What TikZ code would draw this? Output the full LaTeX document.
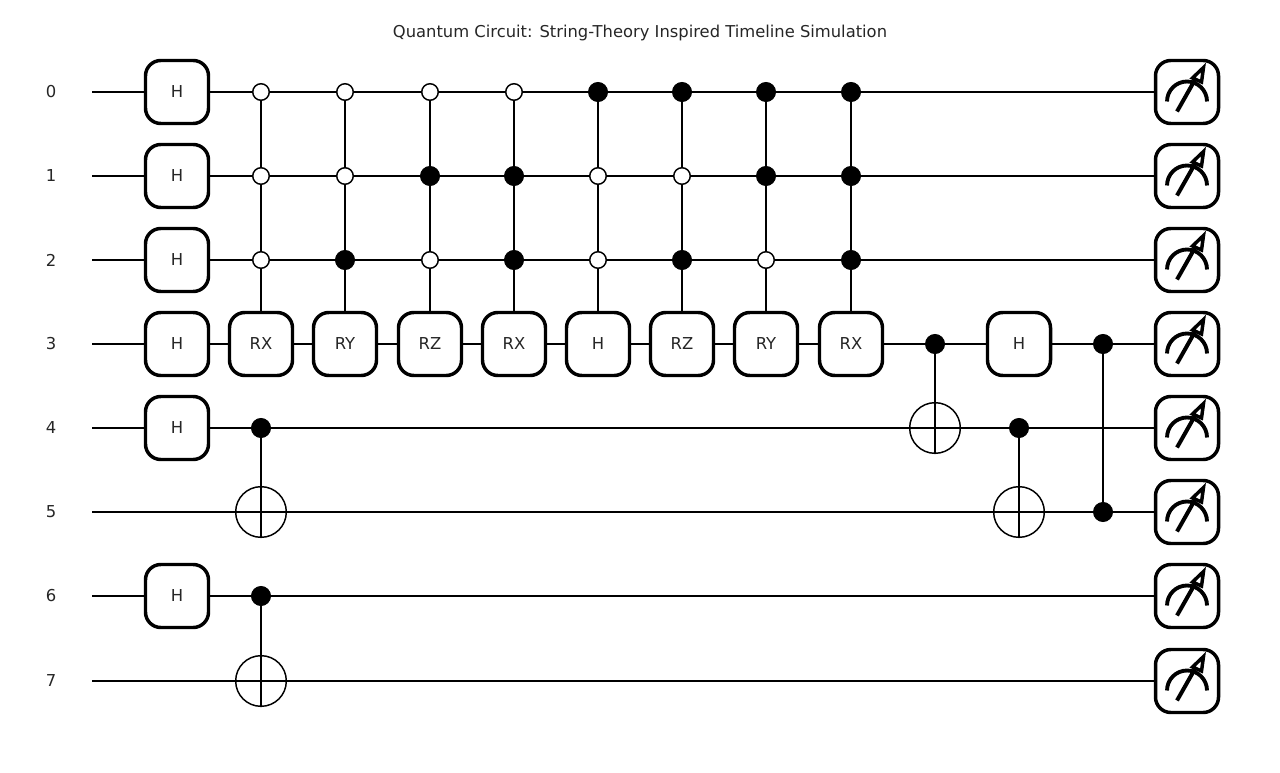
\documentclass[tikz,border=0pt]{standalone}
\usepackage{fontspec}
\setmainfont{DejaVu Sans}
\usetikzlibrary{calc}
\definecolor{ink}{HTML}{262626}
\tikzset{
  x=0.75pt,y=-0.75pt,
  wire/.style={line width=1.5pt,black},
  gatebox/.style={draw=black,fill=white,line width=2.6pt,rounded corners=11.5pt,minimum size=47.25pt,inner sep=0pt,text=ink,font=\fontsize{12.3}{14}\selectfont},
  ctrlon/.style={circle,draw=black,fill=black,line width=0.8pt,minimum size=14.2pt,inner sep=0pt},
  ctrloff/.style={circle,draw=black,fill=white,line width=1.1pt,minimum size=12.4pt,inner sep=0pt},
  target/.style={circle,draw=black,line width=1.1pt,minimum size=38pt,inner sep=0pt},
  qlabel/.style={text=ink,font=\fontsize{12.3}{14}\selectfont},
  titletext/.style={text=ink,font=\fontsize{12.26}{14}\selectfont},
}
\def\rowy#1{round(91.6+84.15*#1)}
\def\colx#1{round(177+84.2*#1)}
\begin{document}
\begin{tikzpicture}
\useasboundingbox (0,0) rectangle (1280,773);
\fill[white] (0,0) rectangle (1280,773);
\node[titletext] (title) at (640,32.5) {Quantum Circuit: String-Theory Inspired Timeline Simulation};
% labels and wires
\foreach \r in {0,...,7}{
  \node[qlabel] (q\r) at (51,{\rowy{\r}}) {\r};
  \coordinate (w\r) at (92,{\rowy{\r}});
  \coordinate (e\r) at ({\colx{12}},{\rowy{\r}});
  \draw[wire] (w\r) -- (e\r);
}
% H column
\foreach \r in {0,1,2,3,4,6}{
  \node[gatebox] (h\r) at ({\colx{0}},{\rowy{\r}}) {H};
}
% rotation gates with their control lines
\foreach \c/\t in {1/RX,2/RY,3/RZ,4/RX,5/H,6/RZ,7/RY,8/RX}{
  \node[gatebox] (g\c) at ({\colx{\c}},{\rowy{3}}) {\t};
  \foreach \r in {0,1,2}{ \coordinate (p\c-\r) at ({\colx{\c}},{\rowy{\r}}); }
  \draw[wire] (p\c-0) -- (g\c.north);
}
% controls
\foreach \c/\r/\s in {
 1/0/ctrloff,1/1/ctrloff,1/2/ctrloff,
 2/0/ctrloff,2/1/ctrloff,2/2/ctrlon,
 3/0/ctrloff,3/1/ctrlon,3/2/ctrloff,
 4/0/ctrloff,4/1/ctrlon,4/2/ctrlon,
 5/0/ctrlon,5/1/ctrloff,5/2/ctrloff,
 6/0/ctrlon,6/1/ctrloff,6/2/ctrlon,
 7/0/ctrlon,7/1/ctrlon,7/2/ctrloff,
 8/0/ctrlon,8/1/ctrlon,8/2/ctrlon}{
  \node[\s] (c\c-\r) at (p\c-\r) {};
}
% CNOTs
\foreach \n/\c/\a/\b in {a/1/4/5,b/1/6/7,c/9/3/4,d/10/4/5}{
  \node[target] (t\n) at ({\colx{\c}},{\rowy{\b}}) {};
  \node[ctrlon] (k\n) at ({\colx{\c}},{\rowy{\a}}) {};
  \draw[wire] (k\n) -- (t\n.south);
}
% H on wire 3 and controlled pair
\node[gatebox] (h3b) at ({\colx{10}},{\rowy{3}}) {H};
\node[ctrlon] (z1) at ({\colx{11}},{\rowy{3}}) {};
\node[ctrlon] (z2) at ({\colx{11}},{\rowy{5}}) {};
\draw[wire] (z1) -- (z2);
% measurements
\foreach \r in {0,...,7}{
  \node[gatebox] (m\r) at ({\colx{12}},{\rowy{\r}}) {};
  \begin{scope}[shift={(m\r.center)}]
    \draw[line width=2.9pt] (-20,9.5) arc[start angle=180,end angle=360,radius=20];
    \draw[line width=3pt] (-10,19.5) -- (9,-14);
    \draw[line width=2.6pt,fill=white,line join=miter] (16.5,-24.5) -- (5.5,-14) -- (14.5,-10) -- cycle;
  \end{scope}
}
\end{tikzpicture}
\end{document}
